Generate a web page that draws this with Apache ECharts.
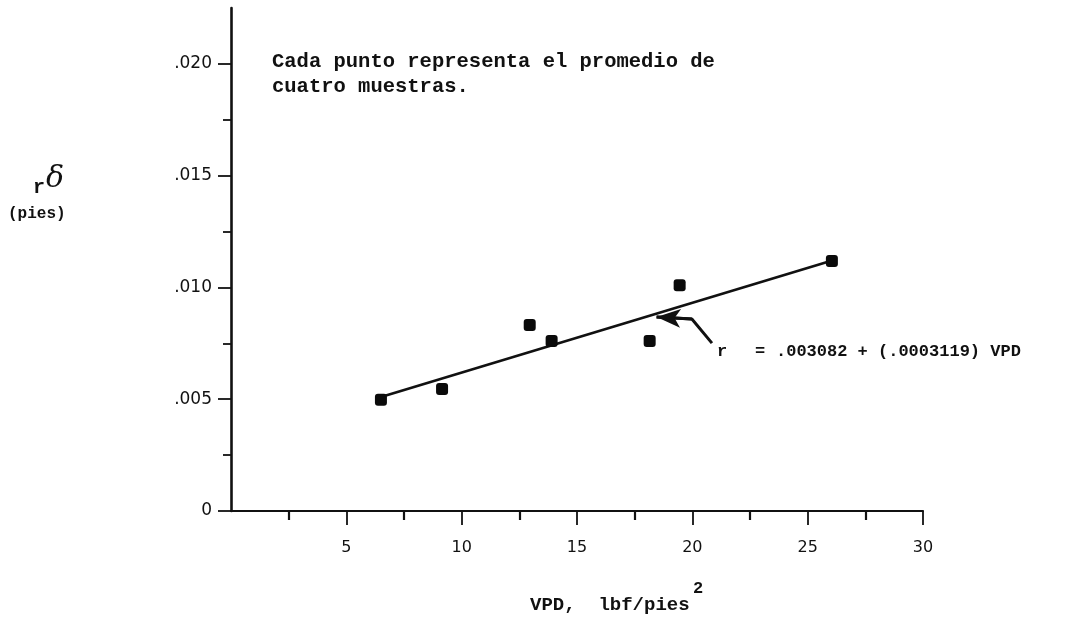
<!DOCTYPE html>
<html>
<head>
<meta charset="utf-8">
<script src="https://cdn.jsdelivr.net/npm/echarts@6/dist/echarts.min.js"></script>
<style>html,body{margin:0;padding:0;background:#fff;}#c{width:1083px;height:622px;}</style>
</head>
<body>
<div id="c"></div>
<script>
// ---- data ----
const vpd    = [6.5, 9.15, 12.95, 13.9, 18.15, 19.45, 26.05];
const rDelta = [0.00498, 0.00546, 0.00832, 0.0076, 0.0076, 0.0101, 0.01118];
const fitX   = [6.5, 26.1];
const fitY   = [0.0051, 0.01122];
const arrowX = [20.85, 19.98, 18.45];
const arrowY = [0.00751, 0.00859, 0.00868];
const xLabelValues = [5, 10, 15, 20, 25, 30];
const xMinorTicks  = [2.5, 7.5, 12.5, 17.5, 22.5, 27.5];
const yLabelValues = [0, 0.005, 0.010, 0.015, 0.020];
const yMinorTicks  = [0.0025, 0.0075, 0.0125, 0.0175];
const noteLines = ['Cada punto representa el promedio de', 'cuatro muestras.'];
const eqR = 'r', eqEq = '=', eqRest = '.003082 + (.0003119) VPD';
const xTitle = 'VPD,  lbf/pies', xTitleSup = '2';
const yTitleR = 'r', yTitleD = 'δ', yUnit = '(pies)';

const mono = '"Liberation Mono", "DejaVu Sans Mono", monospace';
const sans = '"DejaVu Sans", "Liberation Sans", Arial, sans-serif';
const ink = '#111';

const chart = echarts.init(document.getElementById('c'), null, {renderer: 'canvas'});
const fmtY = v => v === 0 ? '0' : v.toFixed(3).slice(1);

const xBase = {
  type: 'value', min: 0, max: 30, gridIndex: 0, position: 'bottom',
  splitLine: {show: false}
};
const yBase = {
  type: 'value', min: 0, max: 0.0225, gridIndex: 0, position: 'left',
  splitLine: {show: false}
};

chart.setOption({
  backgroundColor: '#fff',
  animation: false,
  grid: {left: 231, right: 160, top: 8, bottom: 111, containLabel: false, outerBoundsMode: 'none'},
  xAxis: [
    Object.assign({}, xBase, {
      axisLine: {lineStyle: {color: ink, width: 2.2}},
      axisTick: {show: true, inside: false, length: 14, lineStyle: {color: ink, width: 1.8}, customValues: xLabelValues},
      axisLabel: {customValues: xLabelValues, margin: 29, color: ink, fontFamily: sans, fontSize: 16}
    }),
    Object.assign({}, xBase, {
      axisLine: {show: false},
      axisTick: {show: true, inside: false, length: 9, lineStyle: {color: ink, width: 2.2}, customValues: xMinorTicks},
      axisLabel: {show: false}
    })
  ],
  yAxis: [
    Object.assign({}, yBase, {
      axisLine: {lineStyle: {color: ink, width: 2.6}},
      axisTick: {show: true, inside: false, length: 13, lineStyle: {color: ink, width: 1.8}, customValues: yLabelValues},
      axisLabel: {customValues: yLabelValues, formatter: fmtY, margin: 19, color: ink, fontFamily: sans, fontSize: 17}
    }),
    Object.assign({}, yBase, {
      axisLine: {show: false},
      axisTick: {show: true, inside: false, length: 8, lineStyle: {color: ink, width: 1.8}, customValues: yMinorTicks},
      axisLabel: {show: false}
    })
  ],
  series: [
    {
      type: 'line', xAxisIndex: 0, yAxisIndex: 0,
      data: fitX.map((x, i) => [x, fitY[i]]),
      showSymbol: false, symbol: 'none',
      lineStyle: {color: ink, width: 2.6}, z: 2, silent: true
    },
    {
      type: 'scatter', xAxisIndex: 0, yAxisIndex: 0,
      data: vpd.map((x, i) => [x, rDelta[i]]),
      symbol: 'roundRect', symbolSize: 12,
      itemStyle: {color: '#0a0a0a', opacity: 1}, z: 3, silent: true
    },
    {
      type: 'line', xAxisIndex: 0, yAxisIndex: 0,
      data: arrowX.map((x, i) => [x, arrowY[i]]),
      showSymbol: false, symbol: 'none',
      lineStyle: {color: ink, width: 3}, z: 2, silent: true,
      markLine: {
        silent: true, animation: false,
        symbol: ['none', 'arrow'], symbolSize: [14, 24],
        label: {show: false},
        lineStyle: {color: ink, width: 3, type: 'solid'},
        data: [[
          {coord: [arrowX[1], arrowY[1]]},
          {coord: [arrowX[2], arrowY[2]]}
        ]]
      }
    }
  ],
  graphic: [
    {type: 'text', left: 272, top: 49, style: {text: noteLines.join('\n'), fontFamily: mono, fontWeight: 'bold', fontSize: 20.5, lineHeight: 25, fill: ink}},
    {type: 'text', left: 717, top: 343, style: {text: eqR, fontFamily: mono, fontWeight: 'bold', fontSize: 17, fill: ink}},
    {type: 'text', left: 755, top: 343, style: {text: eqEq, fontFamily: mono, fontWeight: 'bold', fontSize: 17, fill: ink}},
    {type: 'text', left: 776, top: 343, style: {text: eqRest, fontFamily: mono, fontWeight: 'bold', fontSize: 17, fill: ink}},
    {type: 'text', left: 33, top: 178, style: {text: yTitleR, fontFamily: mono, fontWeight: 'bold', fontSize: 20, fill: ink}},
    {type: 'text', left: 46, top: 164, style: {text: yTitleD, fontFamily: '"DejaVu Serif", serif', fontStyle: 'italic', fontSize: 30, fill: ink}},
    {type: 'text', left: 8, top: 206, style: {text: yUnit, fontFamily: mono, fontWeight: 'bold', fontSize: 16, fill: ink}},
    {type: 'text', left: 530, top: 596, style: {text: xTitle, fontFamily: mono, fontWeight: 'bold', fontSize: 19, fill: ink}},
    {type: 'text', left: 693, top: 580, style: {text: xTitleSup, fontFamily: mono, fontWeight: 'bold', fontSize: 17, fill: ink}}
  ]
});
</script>
</body>
</html>
